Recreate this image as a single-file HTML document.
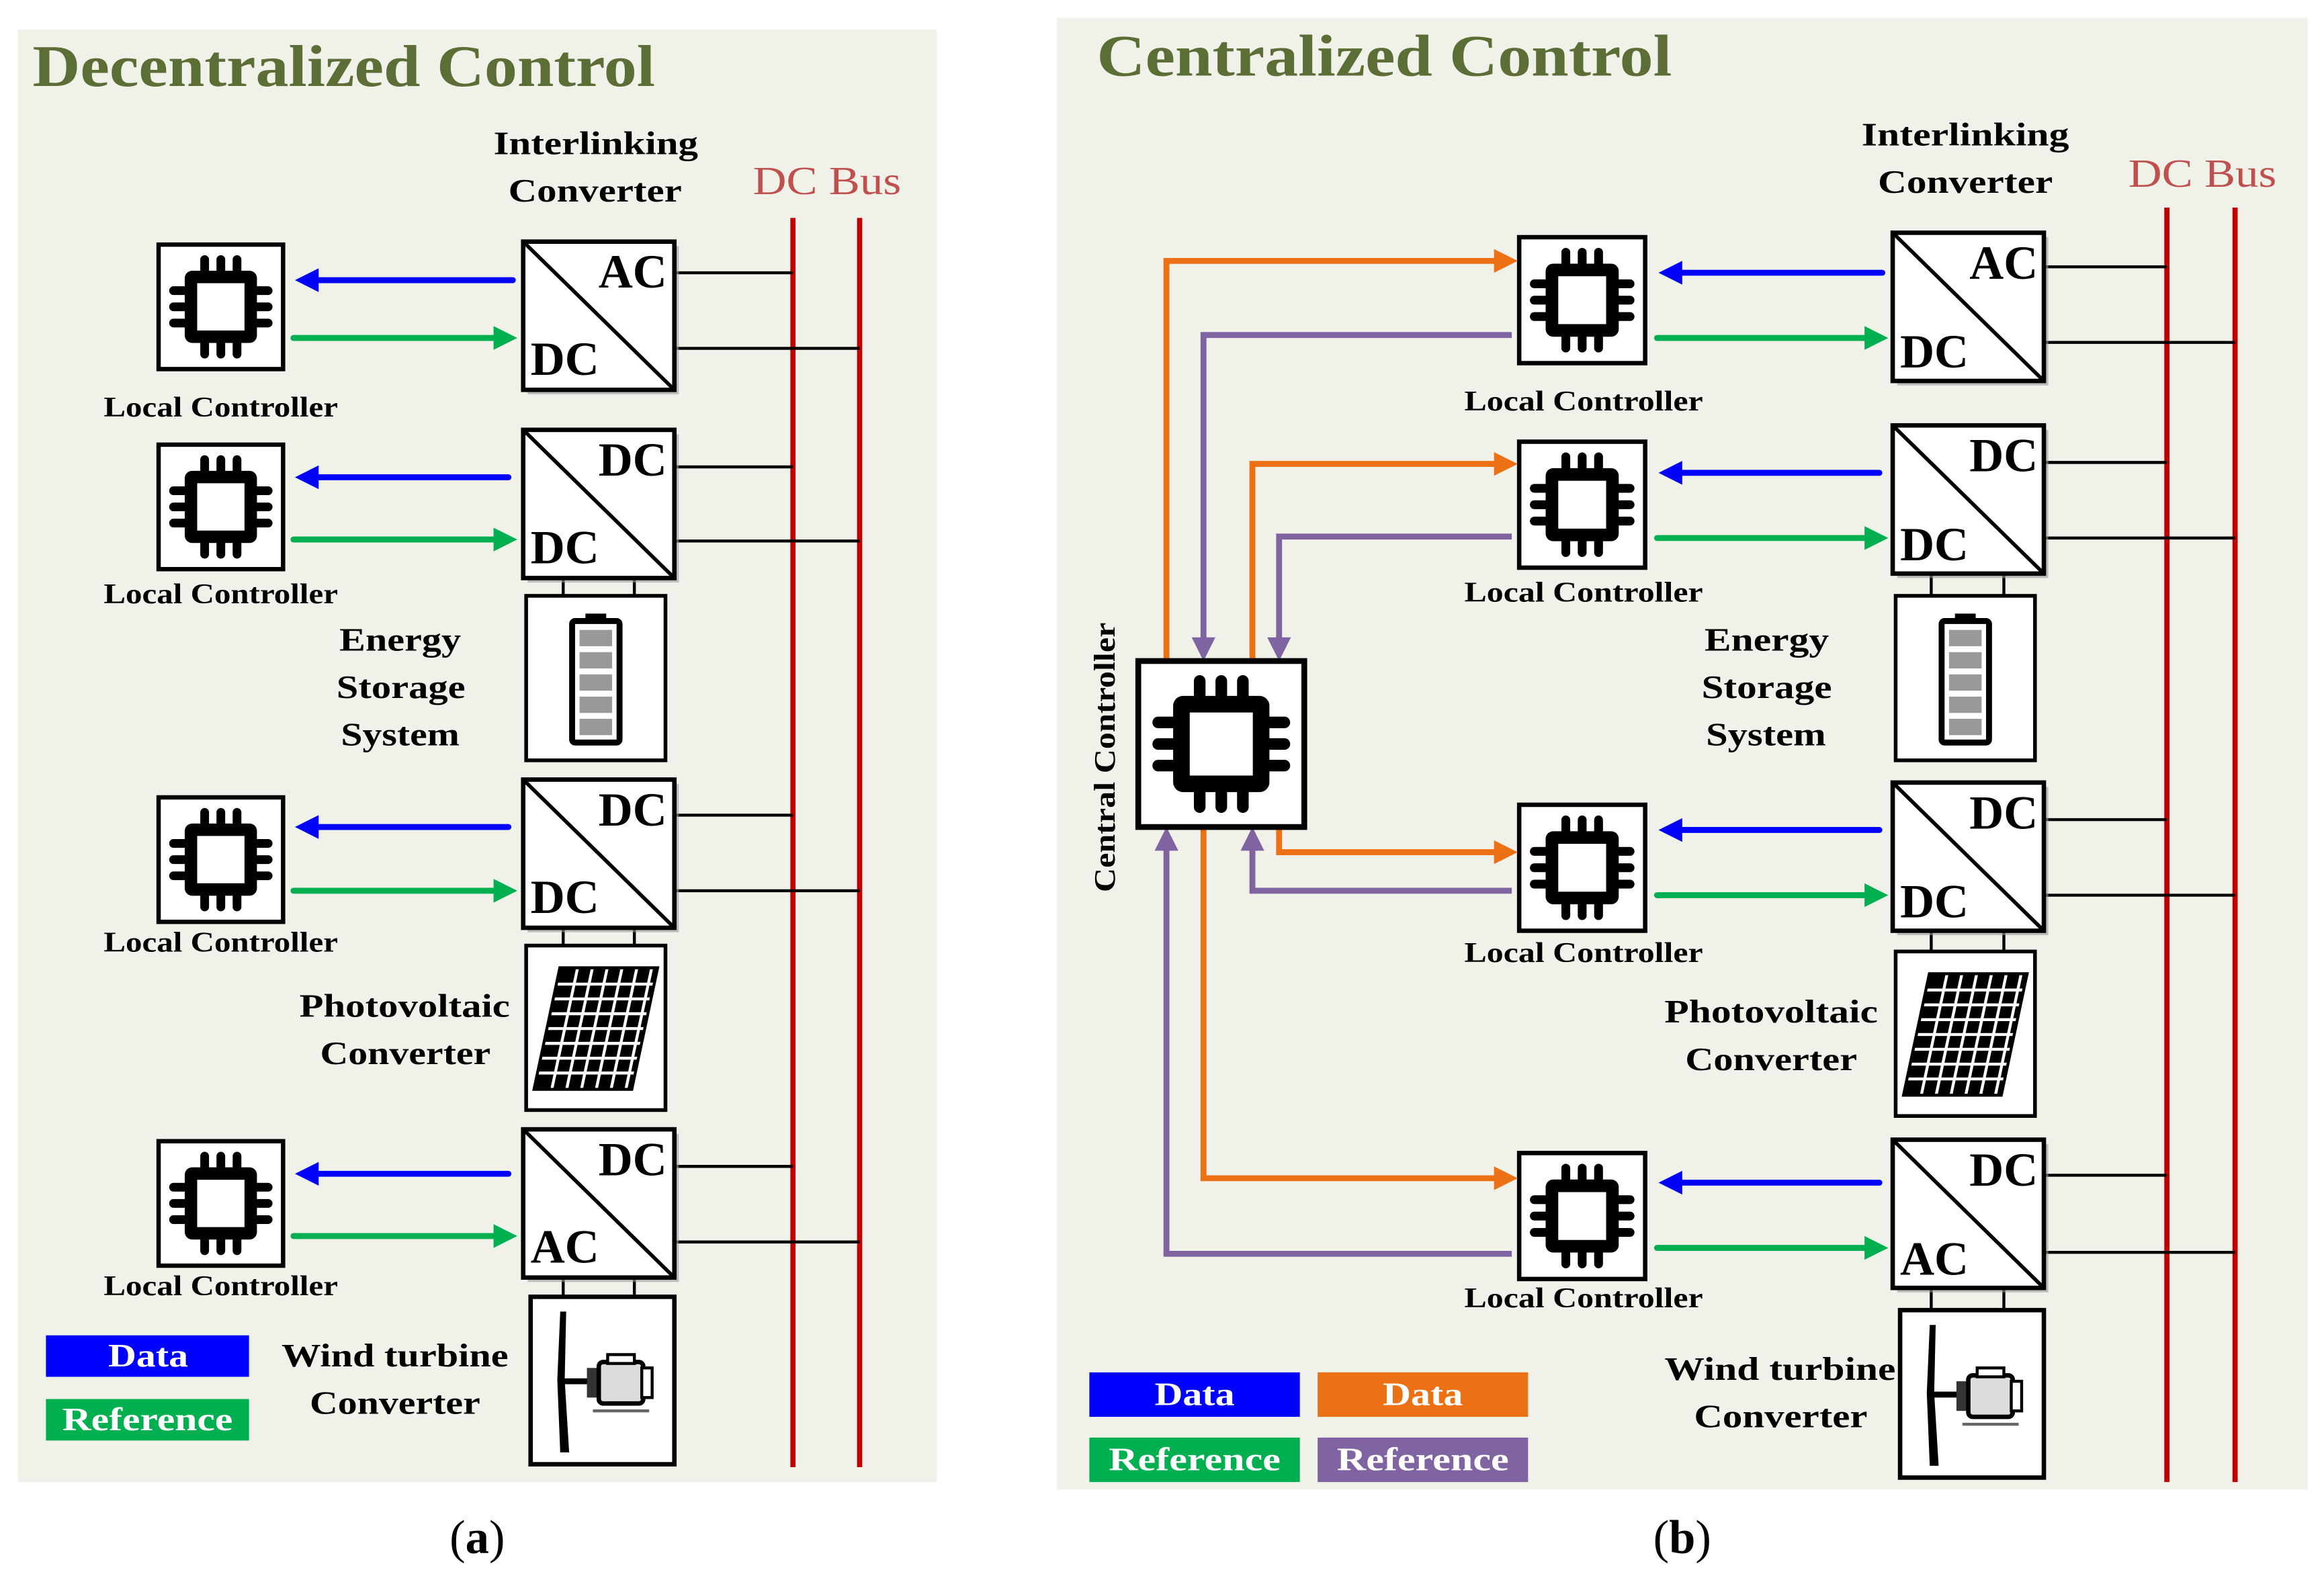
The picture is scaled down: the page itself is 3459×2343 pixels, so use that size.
<!DOCTYPE html>
<html><head><meta charset="utf-8"><style>
html,body{margin:0;padding:0;background:#fff;}
svg{display:block;}
text{font-family:"Liberation Serif",serif;font-weight:bold;}
text.n{font-weight:normal;}
</style></head><body>
<svg width="3459" height="2343" viewBox="0 0 1568 1062" xmlns="http://www.w3.org/2000/svg">
<defs>
<g id="chip">
 <rect x="0" y="0" width="100" height="100" fill="#fff" stroke="#000" stroke-width="3.5"/>
 <g stroke="#000" stroke-width="7" stroke-linecap="round">
  <line x1="37" y1="12" x2="37" y2="88"/><line x1="50" y1="12" x2="50" y2="88"/><line x1="63" y1="12" x2="63" y2="88"/>
  <line x1="12" y1="37" x2="88" y2="37"/><line x1="12" y1="50" x2="88" y2="50"/><line x1="12" y1="63" x2="88" y2="63"/>
 </g>
 <rect x="21" y="21" width="58" height="58" rx="6" fill="#000"/>
 <rect x="31" y="31" width="38" height="38" fill="#fff"/>
</g>
<g id="conv">
 <rect x="3" y="3" width="102" height="100" fill="#999" opacity="0.6"/>
 <rect x="0" y="0" width="102" height="100" fill="#fff" stroke="#000" stroke-width="3"/>
 <line x1="0" y1="0" x2="102" y2="100" stroke="#000" stroke-width="2.5"/>
</g>
<g id="batt">
 <rect x="0" y="0" width="94" height="111" fill="#fff" stroke="#000" stroke-width="2.5"/>
 <rect x="40" y="12" width="14" height="6" fill="#000"/>
 <rect x="31" y="17" width="32" height="82" rx="2" fill="#fff" stroke="#000" stroke-width="4"/>
 <g fill="#999"><rect x="36" y="23" width="22" height="11"/><rect x="36" y="38" width="22" height="11"/><rect x="36" y="53" width="22" height="11"/><rect x="36" y="68" width="22" height="11"/><rect x="36" y="83" width="22" height="11"/></g>
</g>
<g id="pv">
 <rect x="0" y="0" width="94" height="111" fill="#fff" stroke="#000" stroke-width="2.5"/>
 <g transform="translate(47,56) skewX(-12)">
  <rect x="-34" y="-42" width="68" height="84" fill="#000"/>
  <g stroke="#fff" stroke-width="2">
   <line x1="-21" y1="-40" x2="-21" y2="40"/><line x1="-11" y1="-40" x2="-11" y2="40"/><line x1="-1" y1="-40" x2="-1" y2="40"/><line x1="9" y1="-40" x2="9" y2="40"/><line x1="19" y1="-40" x2="19" y2="40"/><line x1="29" y1="-40" x2="29" y2="40"/>
   <line x1="-32" y1="-30" x2="32" y2="-30"/><line x1="-32" y1="-20" x2="32" y2="-20"/><line x1="-32" y1="-10" x2="32" y2="-10"/><line x1="-32" y1="0" x2="32" y2="0"/><line x1="-32" y1="10" x2="32" y2="10"/><line x1="-32" y1="20" x2="32" y2="20"/><line x1="-32" y1="30" x2="32" y2="30"/>
  </g>
 </g>
</g>
<g id="wind">
 <rect x="0" y="0" width="97" height="113" fill="#fff" stroke="#000" stroke-width="3"/>
 <path d="M20 10 L24 10 L23 56 L26 105 L20 105 L18 56 Z" fill="#000"/>
 <line x1="22" y1="57" x2="40" y2="57" stroke="#000" stroke-width="4"/>
 <rect x="38" y="48" width="10" height="20" fill="#333"/>
 <rect x="46" y="44" width="30" height="28" rx="3" fill="#ddd" stroke="#000" stroke-width="3"/>
 <rect x="75" y="48" width="7" height="20" fill="#fff" stroke="#000" stroke-width="2"/>
 <rect x="52" y="39" width="18" height="6" fill="#fff" stroke="#000" stroke-width="2"/>
 <line x1="42" y1="77" x2="80" y2="77" stroke="#666" stroke-width="2"/>
</g>
</defs>

<rect x="0" y="0" width="1568" height="1062" fill="#fff"/>
<!-- LEFT PANEL -->
<rect x="12" y="20" width="620" height="980" fill="#f0f2ea"/>
<text x="22" y="58" font-size="40" fill="#5b6e35" textLength="420" lengthAdjust="spacingAndGlyphs">Decentralized Control</text>
<text x="333" y="104" font-size="22" textLength="138" lengthAdjust="spacingAndGlyphs">Interlinking</text>
<text x="343" y="136" font-size="22" textLength="117" lengthAdjust="spacingAndGlyphs">Converter</text>
<text class="n" x="508" y="131" font-size="27" fill="#c0504d" textLength="100" lengthAdjust="spacingAndGlyphs">DC Bus</text>
<g stroke="#c00000" stroke-width="3.5"><line x1="535" y1="147" x2="535" y2="990"/><line x1="580" y1="147" x2="580" y2="990"/></g>
<g stroke="#000" stroke-width="2">
 <line x1="455" y1="184" x2="535" y2="184"/><line x1="455" y1="235" x2="580" y2="235"/>
 <line x1="455" y1="315" x2="535" y2="315"/><line x1="455" y1="365" x2="580" y2="365"/>
 <line x1="455" y1="550" x2="535" y2="550"/><line x1="455" y1="601" x2="580" y2="601"/>
 <line x1="455" y1="787" x2="535" y2="787"/><line x1="455" y1="838" x2="580" y2="838"/>
 <line x1="380" y1="390" x2="380" y2="402"/><line x1="428" y1="390" x2="428" y2="402"/>
 <line x1="380" y1="626" x2="380" y2="638"/><line x1="428" y1="626" x2="428" y2="638"/>
 <line x1="380" y1="862" x2="380" y2="875"/><line x1="428" y1="862" x2="428" y2="875"/>
</g>
<use href="#conv" x="353" y="163"/><text x="450" y="194" font-size="32" text-anchor="end">AC</text><text x="358" y="253" font-size="32">DC</text>
<use href="#conv" x="353" y="290"/><text x="450" y="321" font-size="32" text-anchor="end">DC</text><text x="358" y="380" font-size="32">DC</text>
<use href="#conv" x="353" y="526"/><text x="450" y="557" font-size="32" text-anchor="end">DC</text><text x="358" y="616" font-size="32">DC</text>
<use href="#conv" x="353" y="762"/><text x="450" y="793" font-size="32" text-anchor="end">DC</text><text x="358" y="852" font-size="32">AC</text>
<use href="#batt" x="355" y="402"/>
<use href="#pv" x="355" y="638"/>
<use href="#wind" x="358" y="875"/>
<g transform="translate(107,165) scale(0.84)"><use href="#chip"/></g>
<g transform="translate(107,300) scale(0.84)"><use href="#chip"/></g>
<g transform="translate(107,538) scale(0.84)"><use href="#chip"/></g>
<g transform="translate(107,770) scale(0.84)"><use href="#chip"/></g>
<g font-size="19">
 <text x="70" y="281" textLength="158" lengthAdjust="spacingAndGlyphs">Local Controller</text><text x="70" y="407" textLength="158" lengthAdjust="spacingAndGlyphs">Local Controller</text><text x="70" y="642" textLength="158" lengthAdjust="spacingAndGlyphs">Local Controller</text><text x="70" y="874" textLength="158" lengthAdjust="spacingAndGlyphs">Local Controller</text>
</g>
<g font-size="22">
 <text x="229" y="439" textLength="82" lengthAdjust="spacingAndGlyphs">Energy</text><text x="227" y="471" textLength="87" lengthAdjust="spacingAndGlyphs">Storage</text><text x="230" y="503" textLength="80" lengthAdjust="spacingAndGlyphs">System</text>
 <text x="202" y="686" textLength="142" lengthAdjust="spacingAndGlyphs">Photovoltaic</text><text x="216" y="718" textLength="115" lengthAdjust="spacingAndGlyphs">Converter</text>
 <text x="190" y="922" textLength="153" lengthAdjust="spacingAndGlyphs">Wind turbine</text><text x="209" y="954" textLength="115" lengthAdjust="spacingAndGlyphs">Converter</text>
</g>
<g stroke-width="4" stroke-linecap="round">
 <g stroke="#0000ff"><line x1="346" y1="189" x2="212" y2="189"/><line x1="343" y1="322" x2="212" y2="322"/><line x1="343" y1="558" x2="212" y2="558"/><line x1="343" y1="792" x2="212" y2="792"/></g>
 <g stroke="#00b050"><line x1="198" y1="228" x2="336" y2="228"/><line x1="198" y1="364" x2="336" y2="364"/><line x1="198" y1="601" x2="336" y2="601"/><line x1="198" y1="834" x2="336" y2="834"/></g>
</g>
<g fill="#0000ff"><polygon points="199,189 215,181 215,197"/><polygon points="199,322 215,314 215,330"/><polygon points="199,558 215,550 215,566"/><polygon points="199,792 215,784 215,800"/></g>
<g fill="#00b050"><polygon points="349,228 333,220 333,236"/><polygon points="349,364 333,356 333,372"/><polygon points="349,601 333,593 333,609"/><polygon points="349,834 333,826 333,842"/></g>
<rect x="31" y="901" width="137" height="28" fill="#0000ff"/><text x="73" y="922" font-size="22" fill="#fff" textLength="54" lengthAdjust="spacingAndGlyphs">Data</text>
<rect x="31" y="944" width="137" height="28" fill="#00b050"/><text x="42" y="965" font-size="22" fill="#fff" textLength="115" lengthAdjust="spacingAndGlyphs">Reference</text>
<text class="n" x="322" y="1048" font-size="32" text-anchor="middle">(<tspan font-weight="bold">a</tspan>)</text>

<!-- RIGHT PANEL -->
<rect x="713" y="12" width="844" height="993" fill="#f0f2ea"/>
<text x="740" y="51" font-size="40" fill="#5b6e35" textLength="388" lengthAdjust="spacingAndGlyphs">Centralized Control</text>
<text x="1256" y="98" font-size="22" textLength="140" lengthAdjust="spacingAndGlyphs">Interlinking</text>
<text x="1267" y="130" font-size="22" textLength="118" lengthAdjust="spacingAndGlyphs">Converter</text>
<text class="n" x="1436" y="126" font-size="27" fill="#c0504d" textLength="100" lengthAdjust="spacingAndGlyphs">DC Bus</text>
<g stroke="#c00000" stroke-width="3.5"><line x1="1462" y1="140" x2="1462" y2="1000"/><line x1="1508" y1="140" x2="1508" y2="1000"/></g>
<g stroke="#000" stroke-width="2">
 <line x1="1380" y1="180" x2="1462" y2="180"/><line x1="1380" y1="231" x2="1508" y2="231"/>
 <line x1="1380" y1="312" x2="1462" y2="312"/><line x1="1380" y1="363" x2="1508" y2="363"/>
 <line x1="1380" y1="553" x2="1462" y2="553"/><line x1="1380" y1="604" x2="1508" y2="604"/>
 <line x1="1380" y1="793" x2="1462" y2="793"/><line x1="1380" y1="845" x2="1508" y2="845"/>
 <line x1="1303" y1="388" x2="1303" y2="402"/><line x1="1352" y1="388" x2="1352" y2="402"/>
 <line x1="1303" y1="629" x2="1303" y2="642"/><line x1="1352" y1="629" x2="1352" y2="642"/>
 <line x1="1303" y1="870" x2="1303" y2="883"/><line x1="1352" y1="870" x2="1352" y2="883"/>
</g>
<use href="#conv" x="1277" y="157"/><text x="1375" y="188" font-size="32" text-anchor="end">AC</text><text x="1282" y="248" font-size="32">DC</text>
<use href="#conv" x="1277" y="287"/><text x="1375" y="318" font-size="32" text-anchor="end">DC</text><text x="1282" y="378" font-size="32">DC</text>
<use href="#conv" x="1277" y="528"/><text x="1375" y="559" font-size="32" text-anchor="end">DC</text><text x="1282" y="619" font-size="32">DC</text>
<use href="#conv" x="1277" y="769"/><text x="1375" y="800" font-size="32" text-anchor="end">DC</text><text x="1282" y="860" font-size="32">AC</text>
<use href="#batt" x="1279" y="402"/>
<use href="#pv" x="1279" y="642"/>
<use href="#wind" x="1282" y="884"/>
<g transform="translate(1025,160) scale(0.85)"><use href="#chip"/></g>
<g transform="translate(1025,298) scale(0.85)"><use href="#chip"/></g>
<g transform="translate(1025,543) scale(0.85)"><use href="#chip"/></g>
<g transform="translate(1025,778) scale(0.85)"><use href="#chip"/></g>
<g font-size="19">
 <text x="988" y="277" textLength="161" lengthAdjust="spacingAndGlyphs">Local Controller</text><text x="988" y="406" textLength="161" lengthAdjust="spacingAndGlyphs">Local Controller</text><text x="988" y="649" textLength="161" lengthAdjust="spacingAndGlyphs">Local Controller</text><text x="988" y="882" textLength="161" lengthAdjust="spacingAndGlyphs">Local Controller</text>
</g>
<g font-size="22">
 <text x="1150" y="439" textLength="84" lengthAdjust="spacingAndGlyphs">Energy</text><text x="1148" y="471" textLength="88" lengthAdjust="spacingAndGlyphs">Storage</text><text x="1151" y="503" textLength="81" lengthAdjust="spacingAndGlyphs">System</text>
 <text x="1123" y="690" textLength="144" lengthAdjust="spacingAndGlyphs">Photovoltaic</text><text x="1137" y="722" textLength="116" lengthAdjust="spacingAndGlyphs">Converter</text>
 <text x="1123" y="931" textLength="156" lengthAdjust="spacingAndGlyphs">Wind turbine</text><text x="1143" y="963" textLength="117" lengthAdjust="spacingAndGlyphs">Converter</text>
</g>
<g stroke-width="4" stroke-linecap="round">
 <g stroke="#0000ff"><line x1="1270" y1="184" x2="1133" y2="184"/><line x1="1268" y1="319" x2="1133" y2="319"/><line x1="1268" y1="560" x2="1133" y2="560"/><line x1="1268" y1="798" x2="1133" y2="798"/></g>
 <g stroke="#00b050"><line x1="1118" y1="228" x2="1260" y2="228"/><line x1="1118" y1="363" x2="1260" y2="363"/><line x1="1118" y1="604" x2="1260" y2="604"/><line x1="1118" y1="842" x2="1260" y2="842"/></g>
</g>
<g fill="#0000ff"><polygon points="1119,184 1135,176 1135,192"/><polygon points="1119,319 1135,311 1135,327"/><polygon points="1119,560 1135,552 1135,568"/><polygon points="1119,798 1135,790 1135,806"/></g>
<g fill="#00b050"><polygon points="1274,228 1258,220 1258,236"/><polygon points="1274,363 1258,355 1258,371"/><polygon points="1274,604 1258,596 1258,612"/><polygon points="1274,842 1258,834 1258,850"/></g>
<g fill="none" stroke-width="4">
 <g stroke="#ec7014">
  <polyline points="787,446 787,176 1010,176"/><polyline points="845,446 845,313 1010,313"/>
  <polyline points="863,558 863,575 1010,575"/><polyline points="812,558 812,795 1010,795"/>
 </g>
 <g stroke="#8064a2">
  <polyline points="1020,226 812,226 812,432"/><polyline points="1020,362 863,362 863,432"/>
  <polyline points="1020,601 845,601 845,572"/><polyline points="1020,846 787,846 787,572"/>
 </g>
</g>
<g fill="#ec7014"><polygon points="1024,176 1008,168 1008,184"/><polygon points="1024,313 1008,305 1008,321"/><polygon points="1024,575 1008,567 1008,583"/><polygon points="1024,795 1008,787 1008,803"/></g>
<g fill="#8064a2"><polygon points="812,446 804,430 820,430"/><polygon points="863,446 855,430 871,430"/><polygon points="845,558 837,574 853,574"/><polygon points="787,558 779,574 795,574"/></g>
<g transform="translate(768,446) scale(1.12,1.12)"><use href="#chip"/></g>
<text transform="translate(752,602) rotate(-90)" font-size="20" textLength="182" lengthAdjust="spacingAndGlyphs">Central Controller</text>
<rect x="735" y="926" width="142" height="30" fill="#0000ff"/><text x="779" y="948" font-size="22" fill="#fff" textLength="54" lengthAdjust="spacingAndGlyphs">Data</text>
<rect x="889" y="926" width="142" height="30" fill="#ec7014"/><text x="933" y="948" font-size="22" fill="#fff" textLength="54" lengthAdjust="spacingAndGlyphs">Data</text>
<rect x="735" y="970" width="142" height="30" fill="#00b050"/><text x="748" y="992" font-size="22" fill="#fff" textLength="116" lengthAdjust="spacingAndGlyphs">Reference</text>
<rect x="889" y="970" width="142" height="30" fill="#8064a2"/><text x="902" y="992" font-size="22" fill="#fff" textLength="116" lengthAdjust="spacingAndGlyphs">Reference</text>
<text class="n" x="1135" y="1048" font-size="32" text-anchor="middle">(<tspan font-weight="bold">b</tspan>)</text>
</svg>
</body></html>
